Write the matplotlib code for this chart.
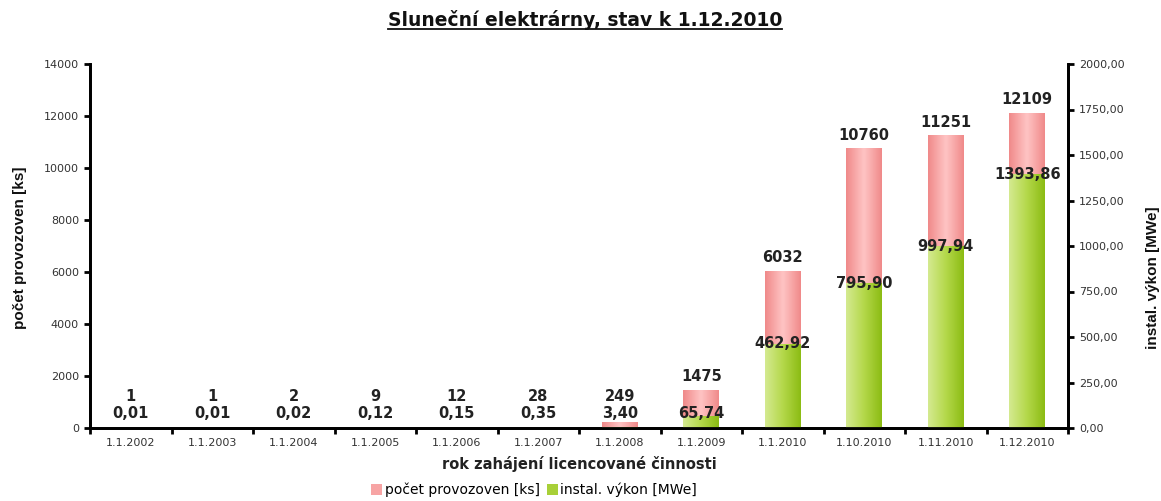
import matplotlib
matplotlib.use("Agg")
import matplotlib.pyplot as plt
import numpy as np
from matplotlib.colors import LinearSegmentedColormap
from matplotlib.lines import Line2D
from matplotlib.patches import Patch
from matplotlib.ticker import FuncFormatter

plt.rcParams['font.family'] = ['DejaVu Sans']
NARROW = ['Liberation Sans', 'DejaVu Sans']

dates = ["1.1.2002", "1.1.2003", "1.1.2004", "1.1.2005", "1.1.2006", "1.1.2007",
         "1.1.2008", "1.1.2009", "1.1.2010", "1.10.2010", "1.11.2010", "1.12.2010"]
counts = [1, 1, 2, 9, 12, 28, 249, 1475, 6032, 10760, 11251, 12109]
power = [0.01, 0.01, 0.02, 0.12, 0.15, 0.35, 3.40, 65.74, 462.92, 795.90, 997.94, 1393.86]

pink_cmap = LinearSegmentedColormap.from_list("pink", ["#f08a8a", "#ffc4c4", "#f08a8a"])
green_cmap = LinearSegmentedColormap.from_list("green", ["#d4ea90", "#b4d84a", "#8cbc14"])

fig = plt.figure(figsize=(11.61, 5.01), dpi=100)
ax = fig.add_axes([90 / 1161, 1 - 428 / 501, (1068 - 90) / 1161, (428 - 64) / 501])
ax2 = ax.twinx()

x = np.arange(len(dates))
width = 0.44
grad = np.linspace(0, 1, 64).reshape(1, -1)


def gradient_bars(axis, vals, cmap):
    bars = axis.bar(x, vals, width=width, color="none", edgecolor="none")
    for b in bars:
        x0, y0 = b.get_x(), b.get_y()
        w, h = b.get_width(), b.get_height()
        if h <= 0:
            continue
        im = axis.imshow(grad, cmap=cmap, aspect="auto", extent=(x0, x0 + w, y0, y0 + h),
                         zorder=2, interpolation="bilinear")
        im.set_clip_path(b)
    return bars


gradient_bars(ax, counts, pink_cmap)
gradient_bars(ax2, power, green_cmap)

ax.set_xlim(-0.5, len(dates) - 0.5)
ax.set_ylim(0, 14000)
ax2.set_ylim(0, 2000)
ax.set_yticks(np.arange(0, 14001, 2000))
ax2.set_yticks(np.arange(0, 2001, 250))
ax2.yaxis.set_major_formatter(FuncFormatter(lambda v, p: f"{v:.2f}".replace(".", ",")))

ax.set_xticks(x)
ax.set_xticklabels(dates)
ax.set_xticks(np.arange(-0.5, len(dates)), minor=True)
ax.tick_params(axis="x", which="major", length=0, labelsize=8, pad=7)
ax.tick_params(axis="x", which="minor", length=4, width=2, direction="out")
ax.tick_params(axis="y", labelsize=8, length=4, width=2, pad=4)
ax2.tick_params(axis="y", labelsize=8, length=4, width=2, pad=4)
for lab in ax.get_yticklabels() + ax2.get_yticklabels() + ax.get_xticklabels():
    lab.set_color("#333333")

for a in (ax, ax2):
    a.spines["top"].set_visible(False)
    for s in ("left", "right", "bottom"):
        a.spines[s].set_linewidth(2)

ax.set_xlabel("rok zahájení licencované činnosti", fontsize=10.5, fontweight="bold",
              color="#222222", labelpad=6)

# axis titles placed in figure space, as in the reference
fig.text(20 / 1161, 1 - 248 / 501, "počet provozoven [ks]", rotation=90, ha="center",
         va="center", fontsize=11, family=NARROW, fontweight="semibold", color="#111111")
fig.text(1153 / 1161, 1 - 278 / 501, "instal. výkon [MWe]", rotation=90, ha="center",
         va="center", fontsize=11, family=NARROW, fontweight="semibold", color="#111111")

for i in range(len(dates)):
    ax.annotate(str(counts[i]), (x[i], max(counts[i], 700)), xytext=(0, 9.5),
                textcoords="offset points", ha="center", va="center",
                fontsize=10.5, fontweight="bold", color="#222222", zorder=5)
    ax2.annotate(f"{power[i]:.2f}".replace(".", ","), (x[i], max(power[i], 82)),
                 ha="center", va="center", fontsize=10.5, fontweight="bold",
                 color="#222222", zorder=5)

title = fig.text(585 / 1161, 1 - 20 / 501, "Sluneční elektrárny, stav k 1.12.2010",
                 ha="center", va="center", fontsize=13.5, fontweight="bold", color="#111111")
fig.canvas.draw()
bb = title.get_window_extent().transformed(fig.transFigure.inverted())
fig.add_artist(Line2D([bb.x0, bb.x1], [bb.y0 + 0.002, bb.y0 + 0.002], color="#111111",
                      lw=1.3, transform=fig.transFigure))

handles = [Patch(facecolor="#f7a4a4", edgecolor="none", label="počet provozoven [ks]"),
           Patch(facecolor="#a8d038", edgecolor="none", label="instal. výkon [MWe]")]
fig.legend(handles=handles, loc="center", bbox_to_anchor=(534 / 1161, 1 - 490 / 501), ncol=2,
           frameon=False, fontsize=10, handlelength=0.8, handleheight=0.8,
           handletextpad=0.2, columnspacing=0.5)

fig.savefig("out.png", dpi=100)
